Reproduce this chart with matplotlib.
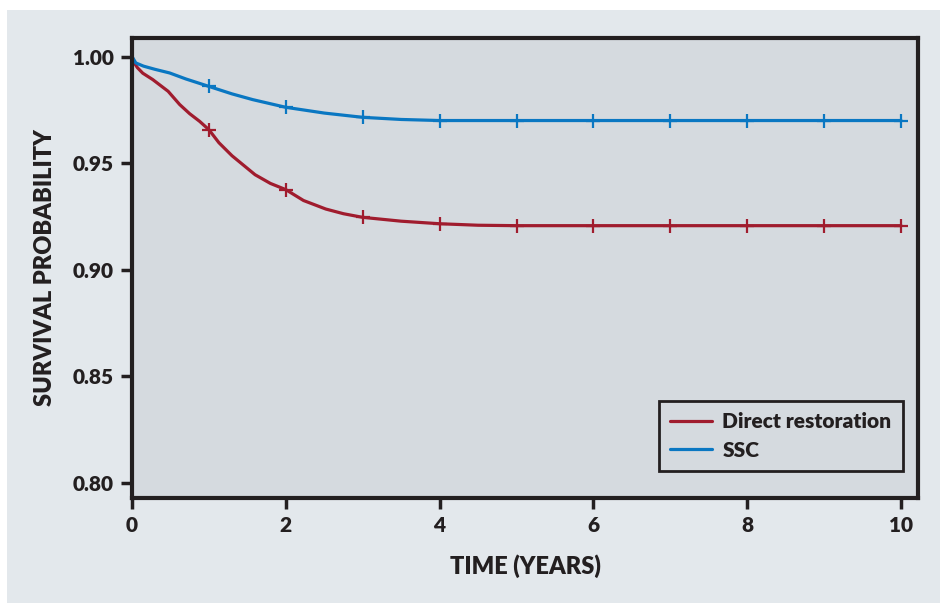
import matplotlib
matplotlib.use("Agg")
import matplotlib.pyplot as plt
from matplotlib.patches import Rectangle

# Data
ssc_t = [0, 0.05, 0.15, 0.3, 0.49, 0.7, 1.0, 1.3, 1.57, 2.0, 2.5, 3.0, 3.5, 4.0, 5, 6, 7, 8, 9, 10]
ssc_s = [1.0, 0.997, 0.9955, 0.994, 0.9923, 0.9895, 0.986, 0.9825, 0.9798, 0.9762, 0.9735, 0.9715, 0.9705, 0.970, 0.970, 0.970, 0.970, 0.970, 0.970, 0.970]
dr_t = [0, 0.03, 0.07, 0.14, 0.27, 0.47, 0.62, 0.75, 0.88, 1.0, 1.13, 1.3, 1.6, 1.8, 2.0, 2.23, 2.52, 2.75, 3.0, 3.5, 4.0, 4.5, 5, 6, 7, 8, 9, 10]
dr_s = [1.0, 0.997, 0.9948, 0.9922, 0.9892, 0.9837, 0.9775, 0.9732, 0.9696, 0.9657, 0.9596, 0.9535, 0.9446, 0.9405, 0.9376, 0.9325, 0.9285, 0.9263, 0.9246, 0.9228, 0.9216, 0.9209, 0.9207, 0.9207, 0.9207, 0.9207, 0.9207, 0.9207]
cens_t = [1, 2, 3, 4, 5, 6, 7, 8, 9, 10]
ssc_cens = [0.986, 0.9762, 0.9715, 0.970, 0.970, 0.970, 0.970, 0.970, 0.970, 0.970]
dr_cens = [0.9657, 0.9376, 0.9246, 0.9216, 0.9207, 0.9207, 0.9207, 0.9207, 0.9207, 0.9207]
xticks = [0, 2, 4, 6, 8, 10]
yticks = [0.80, 0.85, 0.90, 0.95, 1.00]

RED = "#a01c2e"
BLUE = "#0a77c2"
DARK = "#231f20"
W = "heavy"
plt.rcParams['font.family'] = ['Lato', 'DejaVu Sans']
plt.rcParams['font.weight'] = W

fig = plt.figure(figsize=(9.40, 6.03), dpi=100, facecolor="white")
fig.patches.append(Rectangle((7/940, 0), 1, 1 - 10/603, transform=fig.transFigure,
                             facecolor="#e3e8ec", edgecolor="none", zorder=-10))
ax = fig.add_axes([132/940, 1 - 498/603, (918 - 132)/940, (498 - 38)/603])
ax.set_zorder(1)
ax.set_facecolor("#d5dadf")

ax.plot(dr_t, dr_s, color=RED, lw=2.3, label="Direct restoration", solid_capstyle="round",
        solid_joinstyle="round")
ax.plot(ssc_t, ssc_s, color=BLUE, lw=2.3, label="SSC", solid_capstyle="round",
        solid_joinstyle="round")
ax.plot(cens_t, dr_cens, ls="none", marker="+", ms=10, mew=1.6, color=RED)
ax.plot(cens_t, ssc_cens, ls="none", marker="+", ms=10, mew=1.6, color=BLUE)

ax.set_xlim(0, 10.22)
ax.set_ylim(0.793, 1.0087)
ax.set_xticks(xticks)
ax.set_yticks(yticks)
ax.set_yticklabels([f"{v:.2f}" for v in yticks])
for s in ax.spines.values():
    s.set_linewidth(3)
    s.set_color(DARK)
ax.tick_params(direction="out", length=8, width=2.5, color=DARK, labelsize=15,
               labelcolor=DARK, pad=5)
for lbl in ax.get_xticklabels() + ax.get_yticklabels():
    lbl.set_fontweight(W)
ax.set_xlabel("TIME (YEARS)", fontsize=17, fontweight=W, color=DARK, labelpad=14)
ax.set_ylabel("SURVIVAL PROBABILITY", fontsize=17, fontweight=W, color=DARK, labelpad=12)

leg = ax.legend(loc="lower right", fontsize=15,
                frameon=True, fancybox=False, handlelength=2.0, borderpad=0.55,
                handletextpad=0.5, labelspacing=0.45, borderaxespad=0,
                bbox_to_anchor=((903 - 132)/786, (498 - 471)/460),
                bbox_transform=ax.transAxes)
leg.get_frame().set_edgecolor(DARK)
leg.get_frame().set_linewidth(2)
leg.get_frame().set_facecolor("#d5dadf")
leg.get_frame().set_alpha(1)
for t in leg.get_texts():
    t.set_color(DARK)
    t.set_fontweight(W)

fig.savefig("out.png", dpi=100, facecolor=fig.get_facecolor())
